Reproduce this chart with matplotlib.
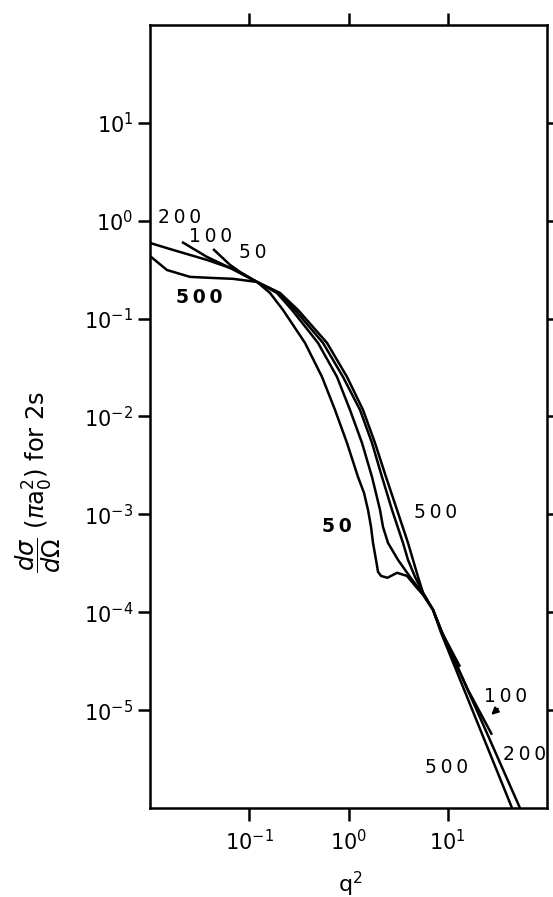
import matplotlib
matplotlib.use("Agg")
import matplotlib.pyplot as plt
from matplotlib.ticker import FixedLocator, NullLocator, LogFormatterSciNotation

# ---- data (q^2, dsigma/dOmega in pi a0^2) ----
q2_50 = [0.0432, 0.064, 0.0807, 0.1197, 0.1618, 0.2188, 0.3645, 0.5408, 0.7311, 0.9658,
         1.246, 1.433, 1.572, 1.686, 1.766, 1.893, 1.983, 2.126, 2.471, 3.082, 3.885,
         4.90, 5.64, 7.10, 8.75, 13.3]
ds_50 = [0.515, 0.354, 0.300, 0.237, 0.183, 0.1227, 0.0565, 0.0254, 0.01168, 0.00537,
         0.002415, 0.001658, 0.001112, 7.45e-4, 5.11e-4, 3.43e-4, 2.59e-4, 2.35e-4, 2.25e-4,
         2.53e-4, 2.35e-4, 1.77e-4, 1.51e-4, 1.06e-4, 6.2e-5, 2.77e-5]

q2_100 = [0.0210, 0.0375, 0.064, 0.1197, 0.190, 0.2696, 0.4929, 0.7657, 1.0354, 1.368,
          1.725, 2.077, 2.226, 2.500, 3.153, 4.165, 5.504, 7.10, 8.75, 16.0, 27.9]
ds_100 = [0.607, 0.427, 0.330, 0.237, 0.183, 0.1227, 0.0565, 0.0254, 0.01168, 0.00537,
          0.002415, 0.001112, 7.45e-4, 5.11e-4, 3.43e-4, 2.30e-4, 1.58e-4, 1.06e-4, 6.2e-5,
          1.61e-5, 5.6e-6]

q2_200 = [0.0100, 0.0171, 0.0375, 0.0686, 0.1197, 0.199, 0.2891, 0.5535, 0.8802, 1.306,
          1.725, 2.175, 2.744, 3.541, 3.977, 4.677, 5.632, 7.10, 8.75, 22.1, 57.3]
ds_200 = [0.593, 0.503, 0.398, 0.322, 0.237, 0.183, 0.1227, 0.0565, 0.0254, 0.01168,
          0.00537, 0.002415, 0.001112, 5.11e-4, 3.43e-4, 2.30e-4, 1.58e-4, 1.06e-4, 6.2e-5,
          7.6e-6, 8.5e-7]

q2_500 = [0.0100, 0.0148, 0.0253, 0.0403, 0.0686, 0.1197, 0.204, 0.3098, 0.6073, 0.9658,
          1.400, 1.849, 2.386, 3.082, 3.977, 4.466, 5.016, 5.632, 7.10, 8.55, 44.4, 63.0]
ds_500 = [0.436, 0.314, 0.267, 0.261, 0.255, 0.237, 0.183, 0.1227, 0.0565, 0.0254,
          0.01168, 0.00537, 0.002415, 0.001112, 5.11e-4, 3.43e-4, 2.30e-4, 1.58e-4, 1.06e-4,
          6.2e-5, 1.0e-6, 4.2e-7]

x_ticks = [0.1, 1, 10]
y_ticks = [1e-5, 1e-4, 1e-3, 1e-2, 1e-1, 1e0, 1e1]

W, H = 553, 897
fig = plt.figure(figsize=(W / 100, H / 100), dpi=100)
ax = fig.add_axes([150 / W, 1 - 808 / H, (547 - 150) / W, (808 - 25) / H])

lw = 1.8
for q, d in [(q2_50, ds_50), (q2_100, ds_100), (q2_200, ds_200), (q2_500, ds_500)]:
    ax.plot(q, d, color="black", lw=lw, solid_capstyle="butt", solid_joinstyle="round")

ax.set_xscale("log")
ax.set_yscale("log")
ax.set_xlim(0.01, 100)
ax.set_ylim(1e-6, 1e2)

ax.xaxis.set_major_locator(FixedLocator(x_ticks))
ax.yaxis.set_major_locator(FixedLocator(y_ticks))
ax.xaxis.set_minor_locator(NullLocator())
ax.yaxis.set_minor_locator(NullLocator())
ax.xaxis.set_major_formatter(LogFormatterSciNotation())
ax.yaxis.set_major_formatter(LogFormatterSciNotation())

ax.tick_params(which="major", direction="out", length=9, width=1.8,
               top=True, right=True, labeltop=False, labelright=False,
               labelsize=15)
ax.tick_params(axis="x", pad=6)
ax.tick_params(axis="y", pad=3)
for s in ax.spines.values():
    s.set_linewidth(1.8)

fs = 13.5
sp = "\u2009"
def lab(x, y, s, bold=False):
    ax.text(x, y, sp.join(s), fontsize=fs, ha="center", va="center",
            fontweight="bold" if bold else "normal")

lab(0.0200, 1.09, "200")
lab(0.0403, 0.684, "100")
lab(0.109, 0.469, "50")
lab(0.0312, 0.163, "500", bold=True)
lab(0.766, 7.6e-4, "50", bold=True)
lab(7.62, 1.04e-3, "500")
lab(38.6, 1.37e-5, "100")
lab(60.0, 3.49e-6, "200")
lab(9.82, 2.58e-6, "500")
ax.annotate("", xy=(26.1, 8.55e-6), xytext=(33.6, 1.08e-5),
            arrowprops=dict(arrowstyle="-|>", color="black", lw=1.5, mutation_scale=10))

fig.text(38 / W, 1 - 482 / H, r"$\dfrac{d\sigma}{d\Omega}$ $(\pi \mathrm{a}_0^2)$ for 2s",
         rotation=90, ha="center", va="center", fontsize=17.5)
fig.text(350 / W, 1 - 884 / H, r"q$^2$", ha="center", va="center", fontsize=16)

fig.savefig("out.png", dpi=100)
